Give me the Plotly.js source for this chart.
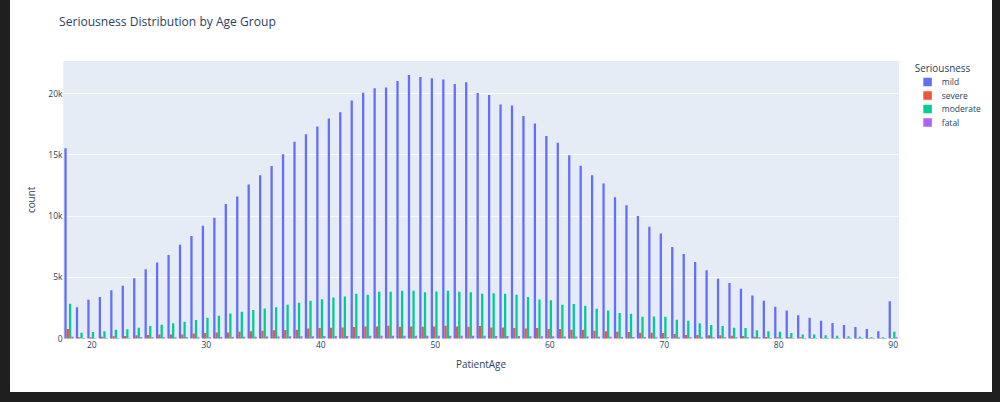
<!DOCTYPE html>
<html>
<head>
<meta charset="utf-8">
<script src="https://cdn.plot.ly/plotly-3.0.1.min.js"></script>
<style>
  html, body { margin: 0; padding: 0; background: #1f1f1f; overflow: hidden; }
  #chart_area {
    position: absolute; left: 10px; top: 0;
    width: 1383px; height: 552px; background: #fff;
    transform: scale(0.71); transform-origin: 0 0;
  }
</style>
</head>
<body>
<div id="chart_area"></div>
<script>
var ages = [18, 19, 20, 21, 22, 23, 24, 25, 26, 27, 28, 29, 30, 31, 32, 33, 34, 35, 36, 37,
  38, 39, 40, 41, 42, 43, 44, 45, 46, 47, 48, 49, 50, 51, 52, 53, 54, 55, 56, 57,
  58, 59, 60, 61, 62, 63, 64, 65, 66, 67, 68, 69, 70, 71, 72, 73, 74, 75, 76, 77,
  78, 79, 80, 81, 82, 83, 84, 85, 86, 87, 88, 89, 90];

var mild = [15530, 2570, 3170, 3410, 3960, 4310, 4930, 5660, 6210, 6830, 7670, 8370, 9210, 9860, 10980, 11600, 12570, 13330, 14090, 15040,
  16070, 16690, 17320, 17970, 18480, 19430, 20070, 20430, 20490, 21030, 21520, 21360, 21250, 21140, 20790, 20920, 20050, 19890, 19100, 19020,
  18160, 17560, 16530, 15990, 14960, 14120, 13330, 12660, 11540, 10890, 10000, 9130, 8590, 7480, 6910, 6260, 5580, 4880, 4550, 4070,
  3520, 3090, 2600, 2300, 1920, 1710, 1460, 1270, 1110, 950, 790, 600, 3060];

var severe = [790, 100, 100, 160, 190, 220, 270, 300, 330, 350, 350, 430, 460, 510, 510, 570, 600, 650, 680, 700,
  730, 840, 870, 890, 920, 950, 1000, 1000, 1060, 980, 1000, 980, 1000, 1060, 1000, 980, 1030, 920, 920, 870,
  840, 870, 790, 790, 730, 730, 650, 600, 570, 540, 490, 480, 460, 380, 300, 300, 270, 270, 240, 220,
  160, 140, 110, 80, 60, 50, 50, 40, 40, 30, 30, 20, 50];

var moderate = [2850, 490, 540, 600, 730, 760, 890, 1030, 1140, 1250, 1380, 1520, 1710, 1870, 2060, 2200, 2330, 2470, 2570, 2760,
  2930, 3090, 3220, 3360, 3440, 3660, 3580, 3820, 3820, 3900, 3900, 3790, 3850, 3900, 3820, 3790, 3660, 3710, 3660, 3580,
  3410, 3200, 3140, 2760, 2820, 2680, 2440, 2300, 2090, 2030, 1790, 1800, 1790, 1540, 1460, 1250, 1110, 1030, 890, 870,
  680, 600, 570, 460, 350, 350, 270, 240, 190, 160, 110, 80, 570];

var fatal = [150, 30, 40, 40, 50, 50, 60, 70, 80, 90, 100, 110, 120, 130, 140, 150, 160, 170, 180, 190,
  200, 200, 210, 210, 220, 220, 230, 230, 240, 240, 240, 240, 240, 240, 230, 230, 230, 220, 220, 210,
  200, 200, 190, 180, 180, 170, 160, 150, 140, 140, 130, 120, 120, 110, 100, 90, 90, 80, 70, 70,
  60, 50, 50, 40, 40, 30, 30, 30, 20, 20, 20, 10, 60];

var seriousness = ['mild', 'severe', 'moderate', 'fatal'];
var colors = ['#636efa', '#EF553B', '#00cc96', '#ab63fa'];
var counts = [mild, severe, moderate, fatal];

var data = seriousness.map(function (name, i) {
  return {
    type: 'bar',
    name: name,
    x: ages,
    y: counts[i],
    marker: { color: colors[i] }
  };
});

var layout = {
  width: 1383,
  height: 552,
  margin: { l: 75, r: 131, t: 86, b: 75 },
  paper_bgcolor: '#fff',
  plot_bgcolor: '#E5ECF6',
  font: { family: '"Open Sans", verdana, arial, sans-serif', size: 12, color: '#2a3f5f' },
  title: { text: 'Seriousness Distribution by Age Group', font: { size: 17 }, x: 0.05, xanchor: 'left', y: 0.944, yref: 'container', yanchor: 'middle' },
  barmode: 'group',
  bargap: 0.2,
  showlegend: true,
  legend: {
    title: { text: 'Seriousness' }, tracegroupgap: 0,
    xref: 'container', x: 0.92, xanchor: 'left',
    yref: 'container', y: 0.85, yanchor: 'top'
  },
  xaxis: {
    title: { text: 'PatientAge', font: { size: 14 }, standoff: 15 },
    range: [17.5, 90.5],
    showgrid: false,
    zeroline: false,
    ticks: '',
    tickvals: [20, 30, 40, 50, 60, 70, 80, 90]
  },
  yaxis: {
    title: { text: 'count', font: { size: 14 }, standoff: 15 },
    gridcolor: 'white',
    zerolinecolor: 'white',
    zerolinewidth: 2,
    ticks: '',
    dtick: 5000
  }
};

var config = { responsive: false, displayModeBar: false };

Plotly.newPlot('chart_area', data, layout, config);
</script>
</body>
</html>
